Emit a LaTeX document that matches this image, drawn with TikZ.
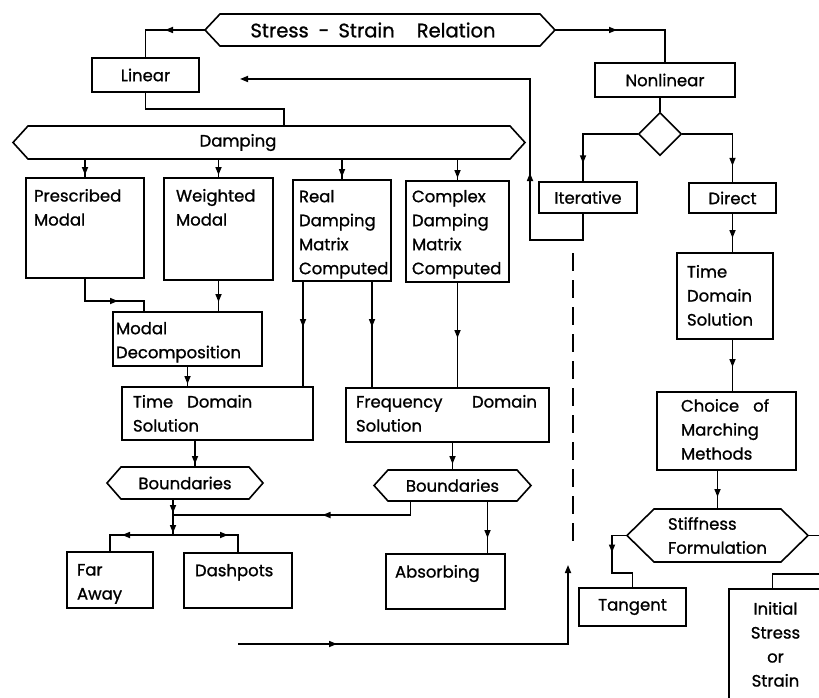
\documentclass[tikz,border=0pt]{standalone}
\usepackage{fontspec}
\setmainfont{Poppins}[FakeBold=1]
\usetikzlibrary{arrows.meta,decorations.markings,shapes.geometric,calc}

\newcommand\bodyfont{\fontsize{16.5}{24}\selectfont}
\newcommand\hdrfont{\fontsize{19.5}{22}\selectfont}
% box text: width, height, left pad, top pad, text
\newcommand\bt[5]{\parbox[c][#2][t]{#1}{\raggedright\leftskip=#3\relax\vspace*{#4}#5\par}}
\newcommand\btc[4]{\parbox[c][#2][t]{#1}{\centering\vspace*{#3}#4\par}}
\newcommand\hexa[2]{\draw[line width=1.6pt, line join=miter] (#1.west) -- ([xshift=#2]#1.north west) -- ([xshift=-#2]#1.north east) -- (#1.east) -- ([xshift=-#2]#1.south east) -- ([xshift=#2]#1.south west) -- cycle;}

\tikzset{
  ln/.style={line width=1.6pt},
  bx/.style={draw, line width=1.6pt, inner sep=0pt, outer sep=0pt, font=\bodyfont},
  hx/.style={inner sep=0pt, outer sep=0pt, font=\bodyfont},
  marr/.style={postaction={decorate,decoration={markings,mark=at position #1 with {\arrow{Triangle[length=8pt,width=6pt]}}}}},
  tip/.style={-{Triangle[length=8pt,width=6pt]}},
}

\begin{document}
\begin{tikzpicture}[x=1pt,y=-1pt]
\useasboundingbox (0,0) rectangle (819,698);
\clip (0,0) rectangle (819,698);

% top
\node[hx, minimum width=350pt, minimum height=32pt, font=\hdrfont] (ss) at (380,30) {\hspace*{-14pt}Stress\hspace{10pt}-\hspace{9pt}Strain\hspace{22pt}Relation};
\hexa{ss}{15pt}
\node[bx, minimum width=107pt, minimum height=34pt] (lin) at (145.5,75) {Linear};
\node[bx, minimum width=140pt, minimum height=34pt] (nl) at (665,80) {Nonlinear};
\node[hx, minimum width=512pt, minimum height=33pt] (dmp) at (269,142.5) {\hspace*{-62pt}Damping};
\hexa{dmp}{15pt}
\node[draw, diamond, aspect=1, minimum size=43pt, inner sep=0pt, line width=1.6pt] (dia) at (660,134) {};
\node[bx, minimum width=98pt, minimum height=31pt] (iter) at (588,197.5) {Iterative};
\node[bx, minimum width=87pt, minimum height=30pt] (dir) at (732.5,198) {Direct};

% right column
\node[bx, anchor=north west] (tdr) at (677,253) {\bt{96pt}{86pt}{10pt}{12pt}{Time\\Domain\\Solution}};
\node[bx, anchor=north west] (cho) at (657,392) {\bt{139pt}{78pt}{24pt}{7pt}{Choice\hspace{14pt}of\\Marching\\Methods}};
\node[hx, minimum width=181pt, minimum height=53pt, align=left] (stf) at (717.5,535.5) {Stiffness\\Formulation};
\hexa{stf}{27pt}
\node[bx, minimum width=107pt, minimum height=38pt] (tng) at (632.5,607) {Tangent};
\node[bx, anchor=north west] (ini) at (729,589) {\btc{93pt}{116pt}{13pt}{Initial\\Stress\\or\\Strain}};

% left side
\node[bx, anchor=north west] (pm) at (26,178) {\bt{118pt}{100pt}{8pt}{11pt}{Prescribed\\Modal}};
\node[bx, anchor=north west] (wm) at (164,178) {\bt{109pt}{102pt}{12pt}{11pt}{Weighted\\Modal}};
\node[bx, anchor=north west] (rd) at (293,180) {\bt{98pt}{101pt}{6pt}{10pt}{Real\\Damping\\Matrix\\Computed}};
\node[bx, anchor=north west] (cd) at (406,181) {\bt{103pt}{101pt}{6pt}{9pt}{Complex\\Damping\\Matrix\\Computed}};
\node[bx, anchor=north west] (md) at (113,312) {\bt{149pt}{54pt}{3pt}{10pt}{Modal\\Decomposition}};
\node[bx, anchor=north west] (tdl) at (122,387) {\bt{191pt}{53pt}{11pt}{8pt}{Time\hspace{14pt}Domain\\Solution}};
\node[bx, anchor=north west] (fd) at (346,388) {\bt{203pt}{54pt}{10pt}{7pt}{Frequency\hfill Domain\kern12pt\null\\Solution}};
\node[hx, minimum width=156pt, minimum height=32pt] (b1) at (185,483) {Boundaries};
\hexa{b1}{14pt}
\node[hx, minimum width=157pt, minimum height=31pt] (b2) at (452.5,485.5) {Boundaries};
\hexa{b2}{14pt}
\node[bx, anchor=north west] (fa) at (67,552) {\bt{86pt}{56pt}{10pt}{12pt}{Far\\Away}};
\node[bx, anchor=north west] (dp) at (184,553) {\bt{108pt}{55pt}{11pt}{11pt}{Dashpots}};
\node[bx, anchor=north west] (ab) at (386,554) {\bt{119pt}{55pt}{9pt}{11pt}{Absorbing}};

% helper coordinates
\coordinate (j1) at (173,515);
\coordinate (j2) at (173,535);
\coordinate (fbc) at (530,79);
\coordinate (fbend) at (240,79);
\coordinate (bs) at (238,644);
\coordinate (be) at (568,565);
\coordinate (dsa) at (573,253);
\coordinate (dsb) at (573,548);
\coordinate (b1n) at ([xshift=10pt]b1.north);
\coordinate (rdl) at ([xshift=-39pt]rd.south);
\coordinate (rdr) at ([xshift=30pt]rd.south);
\coordinate (b2s) at ([xshift=-42pt]b2.south);
\coordinate (b2a) at ([xshift=35pt]b2.south);
\coordinate (iters) at ([xshift=-5pt]iter.south);
\coordinate (itern) at ([xshift=-5pt]iter.north);
\coordinate (mdn) at ([xshift=-43.5pt]md.north);
\coordinate (dmpn) at ([xshift=15pt]dmp.north);

% connectors
\draw[ln, marr=40pt] (ss.west) -| (lin.north);
\draw[ln, marr=62pt] (ss.east) -| (nl.north);
\draw[ln] (lin.south) -- ++(0,17) -| (dmpn);
\draw[ln] (nl.south -| dia.north) -- (dia.north);
\draw[ln, marr=84pt] (dia.west) -| (itern);
\draw[ln, marr=82pt] (dia.east) -| (dir.north);
\draw[ln, marr=25pt] (dir.south) -- (dir.south |- tdr.north);
\draw[ln, marr=28pt] (tdr.south -| dir.south) -- (cho.north -| dir.south);
\draw[ln, marr=27pt] (cho.south -| stf.north) -- (stf.north);
\draw[ln, marr=32pt] (stf.west) -- ++(-15,0) |- ($(tng.north)+(0,-15)$) -- (tng.north);
\draw[ln] (stf.east) -- ++(25,0) |- ($(ini.north)+(-3,-15)$) -- ++(0,15);

\draw[ln, marr=-3pt] (dmp.south -| pm.north) -- (pm.north);
\draw[ln, marr=-3pt] (dmp.south -| wm.north) -- (wm.north);
\draw[ln, marr=-3pt] (dmp.south -| rd.north) -- (rd.north);
\draw[ln, marr=-3pt] (dmp.south -| cd.north) -- (cd.north);
\draw[ln, marr=56pt] (pm.south) -- ++(0,23) -| (mdn);
\draw[ln, marr=22pt] (wm.south) -- (wm.south |- md.north);
\draw[ln, marr=46pt] (rdl) -- (rdl |- tdl.north);
\draw[ln, marr=46pt] (rdr) -- (rdr |- fd.north);
\draw[ln, marr=56pt] (cd.south) -- (cd.south |- fd.north);
\draw[ln, marr=-3pt] (md.south) -- (md.south |- tdl.north);
\draw[ln, marr=-3pt] (b1n |- tdl.south) -- (b1n);
\draw[ln, marr=-6pt] (b2.north |- fd.south) -- (b2.north);
\draw[ln, marr=14pt, marr=34pt] (b1.south -| j2) -- (j2);
\draw[ln, marr=102pt] (b2s) |- (j1);
\draw[ln, marr=51pt] (j2) -| (fa.north);
\draw[ln, marr=55pt] (j2) -| (dp.north);
\draw[ln, marr=37pt] (b2a) -- (b2a |- ab.north);

\draw[ln, marr=147pt, tip] (iters) -- ++(0,27) -| (fbc) -- (fbend);
\draw[ln, marr=99pt, tip] (bs) -| (be);
\draw[ln, dash pattern=on 18pt off 9pt] (dsa) -- (dsb);
\end{tikzpicture}
\end{document}
